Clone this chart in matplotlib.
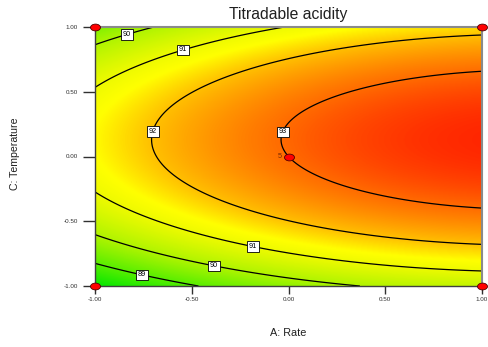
import numpy as np
import matplotlib
matplotlib.use("Agg")
import matplotlib.pyplot as plt
from matplotlib.colors import LinearSegmentedColormap, Normalize
from matplotlib.path import Path
from matplotlib import font_manager

# Quadratic response-surface model for titradable acidity (coded factors A: Rate, C: Temperature)
coef_b0 = 93.0
coef_A = 1.155
coef_C = 0.694
coef_AA = -0.455
coef_CC = -2.67
coef_AC = 0.0

contour_levels = [89, 90, 91, 92, 93]
tick_values = [-1.0, -0.5, 0.0, 0.5, 1.0]

# Design points shown on the plot and replicate count at the centre
design_A = [-1, 1, -1, 1, 0]
design_C = [1, 1, -1, -1, 0]
center_replicates = 5

# Colour scale stops (response value -> colour)
color_values = [88.0, 89.0, 90.0, 91.0, 91.4, 92.0, 93.0, 93.8]
color_hex = ["#00e600", "#5aee00", "#b0f400", "#eefa00", "#ffff00",
             "#ffc000", "#ff6c00", "#ff2200"]

# Contour label anchor points (coded units)
label_spots = [(-0.84, 0.97), (-0.55, 0.85), (-0.69, 0.19), (-0.03, 0.19),
               (-0.18, -0.66), (-0.38, -0.81), (-0.75, -0.87)]


def pick_font(names):
    for n in names:
        try:
            font_manager.findfont(n, fallback_to_default=False)
            return n
        except Exception:
            continue
    return "DejaVu Sans"


sans = pick_font(["Liberation Sans", "Arial"])
narrow = pick_font(["Liberation Sans Narrow", "DejaVu Sans Condensed", "Liberation Sans"])
plt.rcParams["font.family"] = [sans, "DejaVu Sans"]

fig = plt.figure(figsize=(4.88, 3.47), dpi=100)
ax = fig.add_axes([95 / 488, 1 - 286 / 347, 387 / 488, 259 / 347])

a = np.linspace(-1, 1, 400)
c = np.linspace(-1, 1, 400)
AA, CC = np.meshgrid(a, c)
Y = (coef_b0 + coef_A * AA + coef_C * CC + coef_AA * AA ** 2
     + coef_CC * CC ** 2 + coef_AC * AA * CC)

vmin, vmax = color_values[0], color_values[-1]
stops = [((v - vmin) / (vmax - vmin), col) for v, col in zip(color_values, color_hex)]
cmap = LinearSegmentedColormap.from_list("de", stops)

ax.imshow(Y, extent=(-1, 1, -1, 1), origin="lower", cmap=cmap,
          norm=Normalize(vmin, vmax), interpolation="bilinear", aspect="auto")
cs = ax.contour(AA, CC, Y, levels=contour_levels, colors="black", linewidths=0.9)
labels = ax.clabel(cs, fmt="%d", manual=label_spots, inline=False, fontsize=5.2)
for t in labels:
    t.set_rotation(0)
    t.set_color("black")
    t.set_bbox(dict(boxstyle="square,pad=0.25", fc="white", ec="black", lw=0.6))

# Design points as flattened red ellipses
circ = Path.unit_circle()
ellipse = Path(circ.vertices * np.array([1.0, 0.68]), circ.codes)
ax.plot(design_A, design_C, linestyle="none", marker=ellipse, markersize=7.2,
        markerfacecolor="#ff0000", markeredgecolor="#500000", markeredgewidth=0.6,
        clip_on=False, zorder=5)
ax.annotate(str(center_replicates), (0, 0), xytext=(-5, 0), textcoords="offset points",
            ha="right", va="center", fontsize=5.2, color="#7a2a00")

ax.set_xlim(-1, 1)
ax.set_ylim(-1, 1)
ax.set_xticks(tick_values)
ax.set_yticks(tick_values)
ax.set_xticklabels([f"{v:.2f}" for v in tick_values], fontsize=4.5)
ax.set_yticklabels([f"{v:.2f}" for v in tick_values], fontsize=4.5)
ax.tick_params(axis="y", direction="out", length=8.5, width=1.0, pad=4, colors="#303030")
ax.tick_params(axis="x", direction="out", length=6, width=1.0, pad=2, colors="#303030")

for side in ("left", "bottom"):
    ax.spines[side].set_color("#404040")
    ax.spines[side].set_linewidth(1.0)
for side in ("top", "right"):
    ax.spines[side].set_color("#8a8a8a")
    ax.spines[side].set_linewidth(1.5)

fig.text(288.5 / 488, 1 - 14 / 347, "Titradable acidity", ha="center", va="center",
         fontsize=11.3, color="#202020")
fig.text(288 / 488, 1 - 333 / 347, "A: Rate", ha="center", va="center",
         fontsize=7.8, color="#202020")
fig.text(15 / 488, 1 - 154 / 347, "C: Temperature", ha="center", va="center",
         rotation=90, fontsize=7.6, color="#202020", family=[narrow, "DejaVu Sans"])

fig.savefig("out.png", dpi=100)
